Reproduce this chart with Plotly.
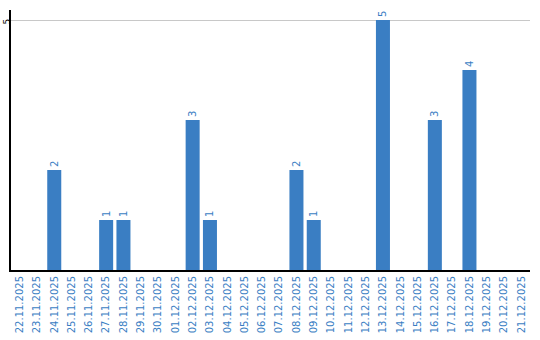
import plotly.graph_objects as go

dates = ["22.11.2025","23.11.2025","24.11.2025","25.11.2025","26.11.2025","27.11.2025",
         "28.11.2025","29.11.2025","30.11.2025","01.12.2025","02.12.2025","03.12.2025",
         "04.12.2025","05.12.2025","06.12.2025","07.12.2025","08.12.2025","09.12.2025",
         "10.12.2025","11.12.2025","12.12.2025","13.12.2025","14.12.2025","15.12.2025",
         "16.12.2025","17.12.2025","18.12.2025","19.12.2025","20.12.2025","21.12.2025"]
values = [0,0,2,0,0,1,1,0,0,0,3,1,0,0,0,0,2,1,0,0,0,5,0,0,3,0,4,0,0,0]
labels = [str(v) if v > 0 else "" for v in values]

blue = "#3a7ec3"
fig = go.Figure(go.Bar(
    x=dates, y=values, text=labels, textposition="outside", textangle=-90,
    textfont=dict(color=blue, size=10, family="DejaVu Sans"),
    marker=dict(color=blue, line=dict(width=0)), cliponaxis=False,
))
fig.update_layout(
    width=540, height=340, margin=dict(l=11, r=10, t=10, b=70),
    plot_bgcolor="white", paper_bgcolor="white", bargap=0.19, showlegend=False,
    font=dict(family="DejaVu Sans", size=10, color="#000"),
)
fig.update_xaxes(type="category", tickangle=-90, tickfont=dict(color=blue, size=10),
                 showline=True, linecolor="black", linewidth=2, ticks="", showgrid=False,
                 automargin=False)
fig.update_yaxes(range=[0, 5.2], tickvals=[5], tickangle=-90, showline=True, linecolor="black",
                 linewidth=2, showgrid=True, gridcolor="#c8c8c8", zeroline=False,
                 tickfont=dict(size=9, color="black"), ticks="", automargin=False,
                 ticklabelstandoff=-5, ticklabelshift=3)
fig.write_html("out.html")
